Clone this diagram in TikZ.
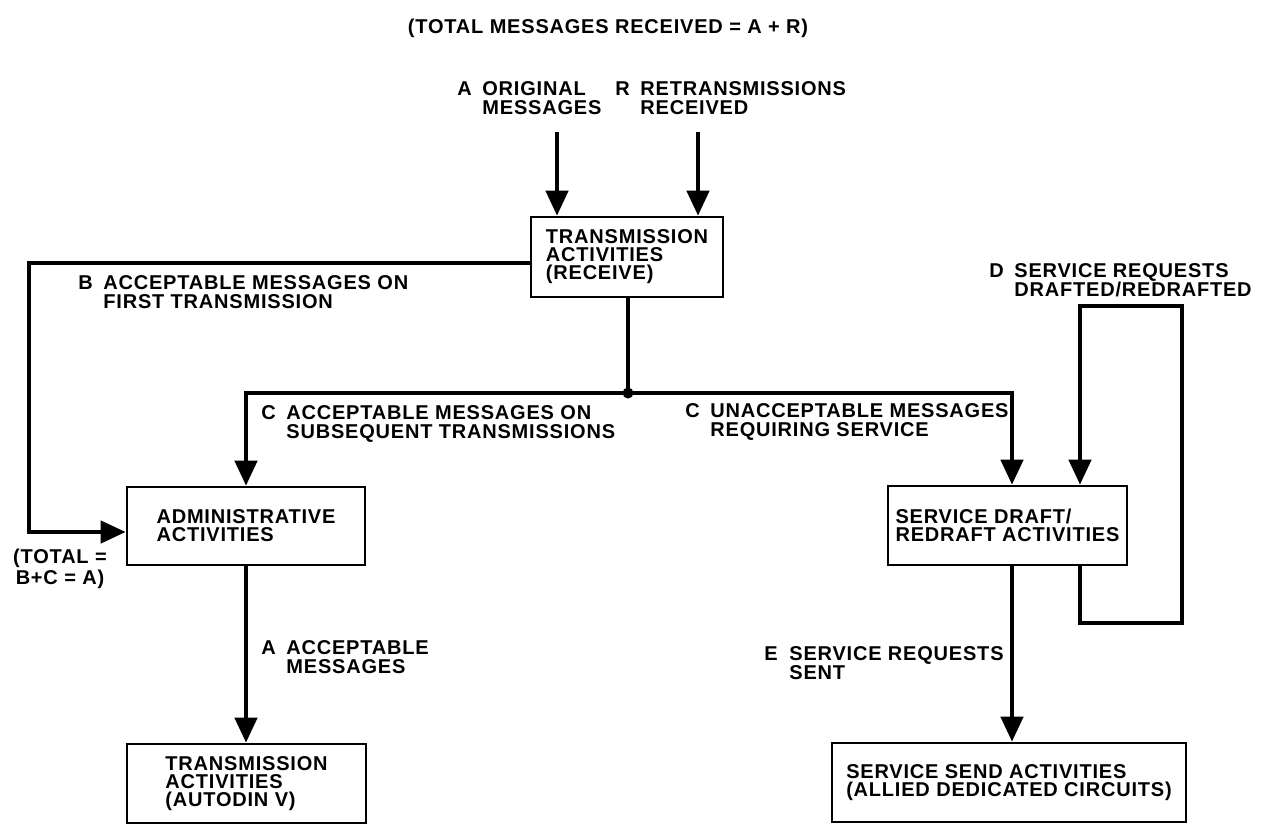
\documentclass[tikz,border=0pt]{standalone}
\usepackage{fontspec}
\setmainfont{Liberation Sans}[LetterSpace=4]
\usetikzlibrary{arrows.meta}

\newcommand{\flowlbl}[2]{\makebox[12.5pt][l]{#1}\begin{tabular}[t]{@{}l@{}}#2\end{tabular}}

\begin{document}
\begin{tikzpicture}[x=0.5pt, y=-0.5pt,
        every node/.style={font=\fontsize{10}{9}\selectfont\bfseries},
        actbox/.style={rectangle, draw, line width=1.3pt, align=left, inner sep=0pt},
        flow/.style={line width=2.2pt, -{Triangle[length=12.5pt,width=11pt]}},
        wire/.style={line width=2.2pt},
        lbl/.style={anchor=base west, inner sep=0pt},
        dot/.style={circle, fill, inner sep=0pt, minimum size=5.5pt},]

        \useasboundingbox (0,0) rectangle (1281,825);

        % Activities
        \node[actbox, minimum width=96pt, minimum height=40pt]     (recv)    at (627,257)     {TRANSMISSION\\ACTIVITIES\\(RECEIVE)};
        \node[actbox, minimum width=119pt, minimum height=39pt]    (admin)   at (246,526)     {ADMINISTRATIVE\\ACTIVITIES};
        \node[actbox, minimum width=119.5pt, minimum height=39.5pt] (autodin) at (246.5,783.5) {TRANSMISSION\\ACTIVITIES\\(AUTODIN V)};
        \node[actbox, minimum width=119.5pt, minimum height=39.5pt] (draft)   at (1007.5,525.5) {SERVICE DRAFT/\\REDRAFT ACTIVITIES};
        \node[actbox, minimum width=177pt, minimum height=39.5pt]   (send)    at (1009,782.5)  {SERVICE SEND ACTIVITIES\\(ALLIED DEDICATED CIRCUITS)};

        %Bends
        \coordinate (inA)  at (557,132);
        \coordinate (inR)  at (698,132);
        \node[dot]  (jn)   at (628,393) {};
        \coordinate (bTop) at (29,263);
        \coordinate (bBot) at (29,532);
        \coordinate (cR)   at (1012,393);
        \coordinate (dTop) at (1080,306);
        \coordinate (dRgt) at (1182,623);

        %Links
        \draw[flow] (inA) -- (inA |- recv.north);
        \draw[flow] (inR) -- (inR |- recv.north);
        \draw[flow] (recv.west |- bTop) -- (bTop) -- (bBot) -- (admin.west |- bBot);
        \draw[wire] (recv.south -| jn) -- (jn.center);
        \draw[flow] (jn.center) -| (admin.north);
        \draw[flow] (jn.center) -- (cR) -- (cR |- draft.north);
        \draw[flow] (draft.south -| dTop) |- (dRgt) |- (dTop) -- (dTop |- draft.north);
        \draw[flow] (admin.south) -- (admin.south |- autodin.north);
        \draw[flow] (draft.south -| cR) -- (send.north -| cR);

        % Labels
        \node[inner sep=0pt] (title) at (608,28) {(TOTAL MESSAGES RECEIVED = A + R)};
        \node[lbl] (lA)  at (457,95)  {\flowlbl{A}{ORIGINAL\\MESSAGES}};
        \node[lbl] (lR)  at (615,95)  {\flowlbl{R}{RETRANSMISSIONS\\RECEIVED}};
        \node[lbl] (lB)  at (78,289)  {\flowlbl{B}{ACCEPTABLE MESSAGES ON\\FIRST TRANSMISSION}};
        \node[lbl] (lCa) at (261,419) {\flowlbl{C}{ACCEPTABLE MESSAGES ON\\SUBSEQUENT TRANSMISSIONS}};
        \node[lbl] (lCu) at (685,417) {\flowlbl{C}{UNACCEPTABLE MESSAGES\\REQUIRING SERVICE}};
        \node[lbl] (lD)  at (989,277) {\flowlbl{D}{SERVICE REQUESTS\\DRAFTED/REDRAFTED}};
        \node[lbl] (lAa) at (261,654) {\flowlbl{A}{ACCEPTABLE\\MESSAGES}};
        \node[lbl] (lE)  at (764,660) {\flowlbl{E}{SERVICE REQUESTS\\SENT}};
        \node[align=center, inner sep=0pt] (total) at (60,569) {(TOTAL =\\B+C = A)};
    \end{tikzpicture}
\end{document}
